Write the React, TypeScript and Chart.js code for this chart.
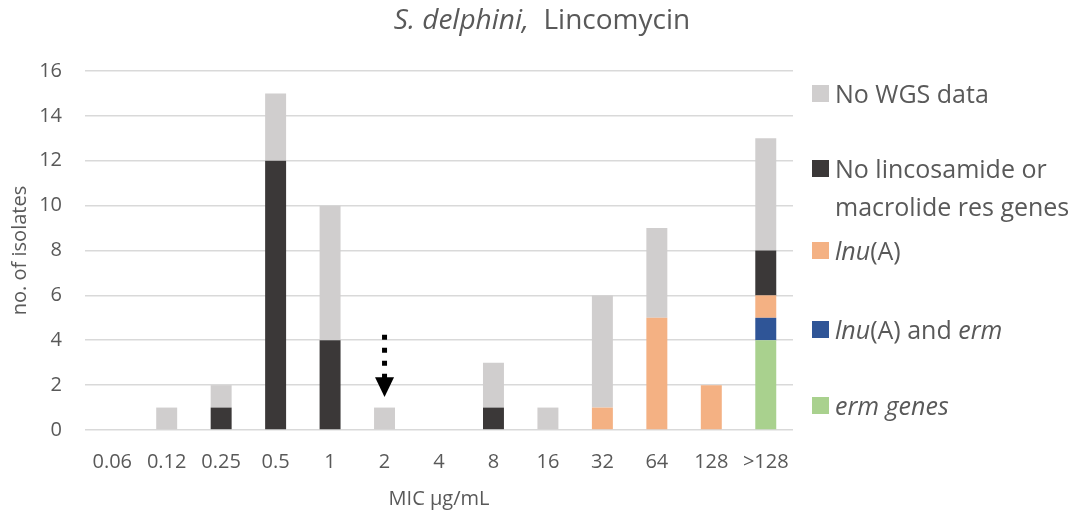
import React, { useEffect, useRef } from "react";
import { Chart, registerables } from "chart.js";

Chart.register(...registerables);

const categories = ["0.06", "0.12", "0.25", "0.5", "1", "2", "4", "8", "16", "32", "64", "128", ">128"];
const ermGenes = [0, 0, 0, 0, 0, 0, 0, 0, 0, 0, 0, 0, 4];
const lnuAndErm = [0, 0, 0, 0, 0, 0, 0, 0, 0, 0, 0, 0, 1];
const lnuA = [0, 0, 0, 0, 0, 0, 0, 0, 0, 1, 5, 2, 1];
const noResGenes = [0, 0, 1, 12, 4, 0, 0, 1, 0, 0, 0, 0, 2];
const noWgs = [0, 1, 1, 3, 6, 1, 0, 2, 1, 5, 4, 0, 5];
const yTicks = [0, 2, 4, 6, 8, 10, 12, 14, 16];

// arrow annotation (data units)
const arrowCategory = "2";
const arrowFrom = 4.25;
const arrowHeadStart = 2.35;
const arrowTo = 1.47;

const COLORS = {
  noWgs: "#d0cece",
  noRes: "#3b3838",
  lnu: "#f4b183",
  lnuErm: "#2f5597",
  erm: "#a9d18e",
};

const FONT = "'Open Sans', 'Noto Sans', sans-serif";
const TEXT = "#595959";

const arrowPlugin = {
  id: "arrowPlugin",
  afterDatasetsDraw(chart: any) {
    const { ctx, scales } = chart;
    const x = scales.x.getPixelForValue(categories.indexOf(arrowCategory));
    const y0 = scales.y.getPixelForValue(arrowFrom);
    const y1 = scales.y.getPixelForValue(arrowHeadStart);
    const y2 = scales.y.getPixelForValue(arrowTo);
    ctx.save();
    ctx.strokeStyle = "#000";
    ctx.fillStyle = "#000";
    ctx.lineWidth = 5;
    ctx.setLineDash([5, 8]);
    ctx.beginPath();
    ctx.moveTo(x, y0);
    ctx.lineTo(x, y1 + 2);
    ctx.stroke();
    ctx.setLineDash([]);
    ctx.beginPath();
    ctx.moveTo(x - 9.5, y1);
    ctx.lineTo(x + 9.5, y1);
    ctx.lineTo(x, y2);
    ctx.closePath();
    ctx.fill();
    ctx.restore();
  },
};

const legendItems: { color: string; y: number; lines: React.ReactNode[] }[] = [
  { color: COLORS.noWgs, y: 93, lines: ["No WGS data"] },
  { color: COLORS.noRes, y: 168, lines: ["No lincosamide or", "macrolide res genes"] },
  { color: COLORS.lnu, y: 250, lines: [<span key="a"><i>lnu</i>(A)</span>] },
  { color: COLORS.lnuErm, y: 329, lines: [<span key="b"><i>lnu</i>(A) and <i>erm</i></span>] },
  { color: COLORS.erm, y: 405, lines: [<span key="c"><i>erm genes</i></span>] },
];

export default function App() {
  const canvasRef = useRef<HTMLCanvasElement | null>(null);

  useEffect(() => {
    if (!canvasRef.current) return;
    const chart = new Chart(canvasRef.current, {
      type: "bar",
      data: {
        labels: categories,
        datasets: [
          { label: "erm genes", data: ermGenes, backgroundColor: COLORS.erm },
          { label: "lnu(A) and erm", data: lnuAndErm, backgroundColor: COLORS.lnuErm },
          { label: "lnu(A)", data: lnuA, backgroundColor: COLORS.lnu },
          { label: "No lincosamide or macrolide res genes", data: noResGenes, backgroundColor: COLORS.noRes },
          { label: "No WGS data", data: noWgs, backgroundColor: COLORS.noWgs },
        ],
      },
      options: {
        animation: false,
        responsive: false,
        maintainAspectRatio: false,
        datasets: {
          bar: { barPercentage: 0.385, categoryPercentage: 1, borderWidth: 0 },
        },
        layout: { padding: { left: 0, top: 71, right: 291, bottom: 0 } },
        plugins: {
          legend: { display: false },
          tooltip: { enabled: false },
          title: { display: false },
        },
        scales: {
          x: {
            stacked: true,
            grid: { display: false, drawTicks: false },
            border: { display: false },
            ticks: { color: TEXT, font: { family: FONT, size: 20 }, padding: 20, maxRotation: 0, autoSkip: false },
            title: { display: true, text: "MIC µg/mL", color: TEXT, font: { family: FONT, size: 20 }, padding: { top: 0, bottom: 9 } },
            afterFit: (s: any) => { s.height = 90; },
          },
          y: {
            stacked: true,
            min: 0,
            max: 16,
            afterBuildTicks: (s: any) => { s.ticks = yTicks.map((v) => ({ value: v })); },
            grid: { color: "#d9d9d9", lineWidth: 1.6, drawTicks: false },
            border: { display: false },
            ticks: { color: TEXT, font: { family: FONT, size: 20 }, padding: 23 },
            title: { display: true, text: "no. of isolates", color: TEXT, font: { family: FONT, size: 20 }, padding: { top: 8, bottom: 0 } },
            afterFit: (s: any) => { s.width = 85; },
          },
        },
      },
      plugins: [arrowPlugin],
    });
    return () => chart.destroy();
  }, []);

  return (
    <div style={{ position: "fixed", left: 0, top: 0, width: 1084, height: 520, background: "#fff", fontFamily: FONT, color: TEXT }}>
      <canvas ref={canvasRef} width={1084} height={520} style={{ position: "absolute", left: 0, top: 0, width: 1084, height: 520 }} />
      <div style={{ position: "absolute", left: 0, width: 1084, top: 0, textAlign: "center", fontSize: 28, lineHeight: "36px", whiteSpace: "pre" }}>
        <i>S. delphini,</i>{"  Lincomycin"}
      </div>
      {legendItems.map((it, i) => (
        <div key={i}>
          <div style={{ position: "absolute", left: 812, top: it.y - 8, width: 17, height: 17, background: it.color }} />
          {it.lines.map((ln, j) => (
            <div key={j} style={{ position: "absolute", left: 835, top: it.y - 17 + j * 38, fontSize: 25, lineHeight: "34px", whiteSpace: "nowrap" }}>
              {ln}
            </div>
          ))}
        </div>
      ))}
    </div>
  );
}
